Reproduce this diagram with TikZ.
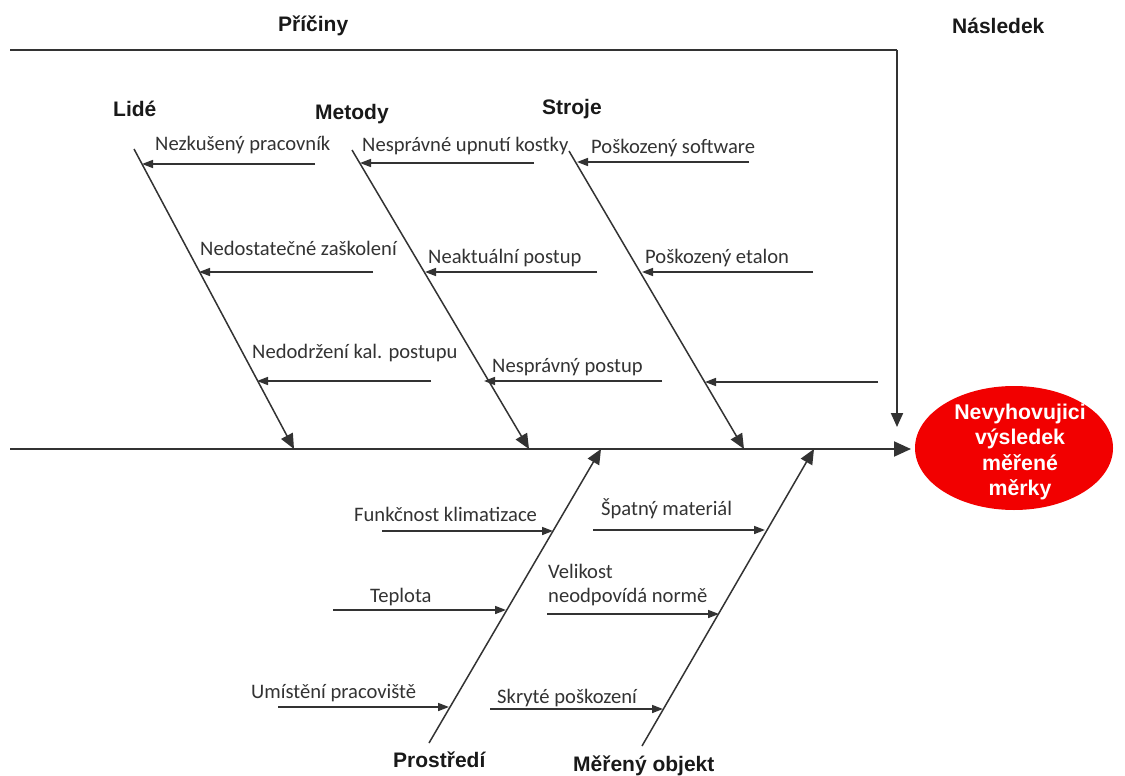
\documentclass[tikz,border=0pt]{standalone}
\usepackage{fontspec}
\setmainfont{Carlito}
\newfontfamily\headfont{Liberation Sans}
\usetikzlibrary{arrows.meta,shapes.geometric}
\definecolor{ink}{HTML}{333333}
\definecolor{effectred}{HTML}{F20000}
\begin{document}
\begin{tikzpicture}[x=1pt,y=-1pt,
  spine/.style={draw=ink,line width=2pt},
  bone/.style={draw=ink,line width=1.5pt,-{Triangle[length=15pt,width=13pt]}},
  twig/.style={draw=ink,line width=1.6pt,-{Triangle[length=11pt,width=8pt]}},
  cause/.style={font=\fontsize{20.6}{24}\selectfont,text=ink,anchor=base west,inner sep=0pt},
  group/.style={font=\headfont\bfseries\fontsize{21}{25}\selectfont,text=black!90,anchor=base west,inner sep=0pt}]
\useasboundingbox (0,0) rectangle (1125,776);
\fill[white] (0,0) rectangle (1125,776);

% headings
\node[group] (hcause) at (278,32) {Příčiny};
\node[group] (heffect) at (952,34) {Následek};

% effect
\node[ellipse,fill=effectred,minimum width=198pt,minimum height=124pt,inner sep=0pt]
      (effect) at (1014,448) {};
\node[font=\headfont\bfseries\fontsize{21.3}{25.3}\selectfont,text=white,align=center,inner sep=0pt]
      (effecttext) at (1020,452) {Nevyhovujici\\výsledek\\měřené\\měrky};

% frame line and main spine
\coordinate (tl) at (10,50);
\coordinate (tr) at (897,50);
\coordinate (tdown) at (897,427);
\coordinate (sl) at (10,449);
\coordinate (sr) at (911,449);
\draw[spine] (tl) -- (tr);
\draw[spine,-{Triangle[length=14pt,width=12pt]}] (tr) -- (tdown);
\draw[spine,-{Triangle[length=17pt,width=15pt]}] (sl) -- (sr);

% group labels
\node[group] (lide) at (113,117) {Lidé};
\node[group] (metody) at (315,119) {Metody};
\node[group] (stroje) at (542,114) {Stroje};
\node[group] (prostredi) at (393,767) {Prostředí};
\node[group] (objekt) at (573,771) {Měřený objekt};

% upper bones
\coordinate (lA) at (134,149);  \coordinate (lB) at (294,449);
\coordinate (mA) at (352,150);  \coordinate (mB) at (529,449);
\coordinate (sA) at (569,151);  \coordinate (sB) at (744,449);
\draw[bone] (lA) -- (lB);
\draw[bone] (mA) -- (mB);
\draw[bone] (sA) -- (sB);

% lower bones
\coordinate (pA) at (429,743);  \coordinate (pB) at (601,449);
\coordinate (oA) at (642,746);  \coordinate (oB) at (814,449);
\draw[bone] (pA) -- (pB);
\draw[bone] (oA) -- (oB);

% causes: Lidé
\coordinate (l1s) at (315,164); \coordinate (l1e) at (142,164);
\coordinate (l2s) at (373,272); \coordinate (l2e) at (199,272);
\coordinate (l3s) at (431,381); \coordinate (l3e) at (257,381);
\draw[twig] (l1s) -- (l1e);
\draw[twig] (l2s) -- (l2e);
\draw[twig] (l3s) -- (l3e);
\node[cause] (l1) at (155,150) {Nezkušený pracovník};
\node[cause] (l2) at (200,255) {Nedostatečné zaškolení};
\node[cause] (l3) at (252,358) {Nedodržení kal. postupu};

% causes: Metody
\coordinate (m1s) at (534,163); \coordinate (m1e) at (360,163);
\coordinate (m2s) at (597,272); \coordinate (m2e) at (425,272);
\coordinate (m3s) at (662,381); \coordinate (m3e) at (484,381);
\draw[twig] (m1s) -- (m1e);
\draw[twig] (m2s) -- (m2e);
\draw[twig] (m3s) -- (m3e);
\node[cause] (m1) at (362,151) {Nesprávné upnutí kostky};
\node[cause] (m2) at (428,263) {Neaktuální postup};
\node[cause] (m3) at (492,372) {Nesprávný postup};

% causes: Stroje
\coordinate (s1s) at (749,162); \coordinate (s1e) at (577,162);
\coordinate (s2s) at (813,272); \coordinate (s2e) at (642,272);
\coordinate (s3s) at (878,382); \coordinate (s3e) at (705,382);
\draw[twig] (s1s) -- (s1e);
\draw[twig] (s2s) -- (s2e);
\draw[twig] (s3s) -- (s3e);
\node[cause] (s1) at (591,153) {Poškozený software};
\node[cause] (s2) at (645,263) {Poškozený etalon};

% causes: Prostředí
\coordinate (p1s) at (382,531); \coordinate (p1e) at (553,531);
\coordinate (p2s) at (333,610); \coordinate (p2e) at (506,610);
\coordinate (p3s) at (278,707); \coordinate (p3e) at (449,707);
\draw[twig] (p1s) -- (p1e);
\draw[twig] (p2s) -- (p2e);
\draw[twig] (p3s) -- (p3e);
\node[cause] (p1) at (354,521) {Funkčnost klimatizace};
\node[cause] (p2) at (370,602) {Teplota};
\node[cause] (p3) at (251,698) {Umístění pracoviště};

% causes: Měřený objekt
\coordinate (o1s) at (593,530); \coordinate (o1e) at (765,530);
\coordinate (o2s) at (547,614); \coordinate (o2e) at (719,614);
\coordinate (o3s) at (490,709); \coordinate (o3e) at (663,709);
\draw[twig] (o1s) -- (o1e);
\draw[twig] (o2s) -- (o2e);
\draw[twig] (o3s) -- (o3e);
\node[cause] (o1) at (601,515) {Špatný materiál};
\node[cause] (o2a) at (548,578) {Velikost};
\node[cause] (o2b) at (548,602) {neodpovídá normě};
\node[cause] (o3) at (497,703) {Skryté poškození};
\end{tikzpicture}
\end{document}
